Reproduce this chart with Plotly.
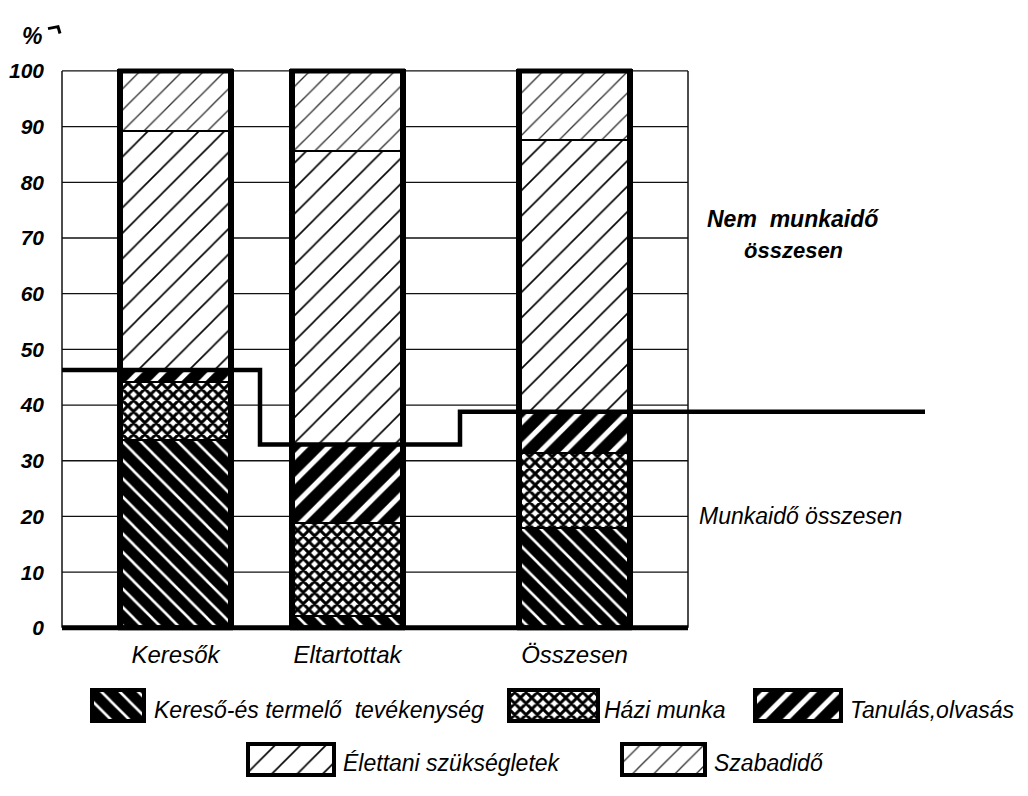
import plotly.graph_objects as go

# ---------------- data (percent of total time) ----------------
categories = ["Keresők", "Eltartottak", "Összesen"]
kereso_termelo = [33.6, 2.1, 17.9]   # Kereső-és termelő tevékenység
hazi_munka = [10.4, 16.7, 13.4]      # Házi munka
tanulas = [2.3, 14.1, 7.5]           # Tanulás, olvasás
elettani = [42.8, 52.7, 48.7]        # Élettani szükségletek
szabadido = [10.9, 14.4, 12.5]       # Szabadidő
y_ticks = [0, 10, 20, 30, 40, 50, 60, 70, 80, 90, 100]

series_names = ["Kereső-és termelő  tevékenység", "Házi munka", "Tanulás,olvasás",
                "Élettani szükségletek", "Szabadidő"]
series_values = [kereso_termelo, hazi_munka, tanulas, elettani, szabadido]

# ---------------- layout constants (pixels) ----------------
W, H = 1028, 796
cat_pos = [175.5, 347.5, 574.5]
bar_w = 115
plot_left, plot_right, line_end = 62, 688, 925
step_breaks = [260, 460]

FONT = "Liberation Sans, Arial, sans-serif"

patterns = [
    dict(shape="\\", fgcolor="white", bgcolor="black", size=13, solidity=0.2, fillmode="replace"),
    dict(shape="x", fgcolor="black", bgcolor="white", size=8, solidity=0.6, fillmode="replace"),
    dict(shape="/", fgcolor="white", bgcolor="black", size=17, solidity=0.3, fillmode="replace"),
    dict(shape="/", fgcolor="black", bgcolor="white", size=18, solidity=0.09, fillmode="replace"),
    dict(shape="/", fgcolor="#333333", bgcolor="white", size=15, solidity=0.09, fillmode="replace"),
]

fig = go.Figure()

for name, vals, pat in zip(series_names, series_values, patterns):
    fig.add_trace(go.Bar(
        x=cat_pos, y=vals, width=[bar_w] * len(cat_pos), name=name,
        marker=dict(color="white", pattern=pat, line=dict(color="black", width=2)),
        showlegend=False, xaxis="x", yaxis="y",
    ))

totals = [sum(v) for v in zip(*series_values)]
work_total = [a + b + c for a, b, c in zip(kereso_termelo, hazi_munka, tanulas)]

# step line: total working time
fig.add_trace(go.Scatter(
    x=[plot_left, step_breaks[0], step_breaks[1], line_end],
    y=[work_total[0], work_total[1], work_total[2], work_total[2]],
    mode="lines", line=dict(color="black", width=4.5, shape="hv"),
    showlegend=False, xaxis="x", yaxis="y", cliponaxis=False,
))

shapes = []
for t in y_ticks[1:]:
    shapes.append(dict(type="line", xref="x", yref="y", x0=plot_left, x1=plot_right,
                       y0=t, y1=t, line=dict(color="#111111", width=1.3), layer="below"))
for xv in (plot_left, plot_right):
    shapes.append(dict(type="line", xref="x", yref="y", x0=xv, x1=xv, y0=0, y1=100,
                       line=dict(color="#111111", width=1.5), layer="below"))
shapes.append(dict(type="line", xref="x", yref="y", x0=plot_left, x1=plot_right, y0=0, y1=0,
                   line=dict(color="black", width=5)))
for xc, tot in zip(cat_pos, totals):
    shapes.append(dict(type="rect", xref="x", yref="y", x0=xc - bar_w / 2 + 2.5,
                       x1=xc + bar_w / 2 - 2.5, y0=0, y1=tot,
                       line=dict(color="black", width=5)))
# small hook next to the % sign
shapes.append(dict(type="path", xref="paper", yref="paper",
                   path=f"M {48/W},{1-22/H} L {58/W},{1-20/H} L {60/W},{1-27/H}",
                   line=dict(color="black", width=3)))

# ---------------- legend built on a second pair of axes ----------------
leg_swatches = [(92, 144, 695, 727), (509, 598, 695, 727), (755, 841, 695, 727),
                (248, 334, 750, 782), (622, 705, 750, 782)]
leg_text = [(152, 716), (602, 716), (848, 716), (341, 770), (712, 770)]

for (x0, x1, y0, y1), pat, name in zip(leg_swatches, patterns, series_names):
    fig.add_trace(go.Bar(
        x=[(x0 + x1) / 2], y=[y1 - y0], base=[y0], width=[x1 - x0],
        marker=dict(color="white", pattern=pat, line=dict(color="black", width=4)),
        showlegend=False, xaxis="x2", yaxis="y2", hoverinfo="skip",
    ))

annotations = []
for (tx, ty), name in zip(leg_text, series_names):
    annotations.append(dict(x=tx, y=ty, xref="x2", yref="y2", text=name, showarrow=False,
                            xanchor="left", yanchor="middle",
                            font=dict(family=FONT, size=23, color="black", style="italic")))

def py(p):
    return 1 - p / H

annotations += [
    dict(x=705 / W, y=py(216), xref="paper", yref="paper", text="Nem  munkaidő",
         showarrow=False, xanchor="left", yanchor="middle",
         font=dict(family=FONT, size=23, color="black", style="italic", weight="bold")),
    dict(x=742 / W, y=py(248), xref="paper", yref="paper", text="összesen",
         showarrow=False, xanchor="left", yanchor="middle",
         font=dict(family=FONT, size=22, color="black", style="italic", weight="bold")),
    dict(x=697 / W, y=py(518), xref="paper", yref="paper", text="Munkaidő összesen",
         showarrow=False, xanchor="left", yanchor="middle",
         font=dict(family=FONT, size=23, color="black", style="italic")),
    dict(x=32 / W, y=py(30), xref="paper", yref="paper", text="%",
         showarrow=False, xanchor="center", yanchor="middle",
         font=dict(family=FONT, size=23, color="black", style="italic", weight="bold")),
]

fig.update_layout(
    width=W, height=H, margin=dict(l=0, r=0, t=0, b=0),
    paper_bgcolor="white", plot_bgcolor="white",
    barmode="stack", bargap=0, hovermode=False,
    shapes=shapes, annotations=annotations,
    xaxis=dict(domain=[60 / W, 925 / W], range=[60, 925], showgrid=False, zeroline=False,
               showline=False, tickvals=cat_pos, ticktext=categories, ticks="",
               ticklabelstandoff=6,
               tickfont=dict(family=FONT, size=24, color="black", style="italic")),
    yaxis=dict(domain=[1 - 636.5 / H, 1 - 60.5 / H], range=[-0.8, 100.8], showgrid=False,
               zeroline=False, showline=False, tickvals=y_ticks, ticks="",
               ticklabelstandoff=15,
               tickfont=dict(family=FONT, size=21, color="black", style="italic", weight="bold")),
    xaxis2=dict(domain=[0, 1], range=[0, W], visible=False, anchor="y2"),
    yaxis2=dict(domain=[0, 0.16], range=[H, H - 0.16 * H], visible=False, anchor="x2"),
)

fig.write_html("out.html", config={"displayModeBar": False},
               post_script="document.body.style.margin='0';document.body.style.overflow='hidden';")
